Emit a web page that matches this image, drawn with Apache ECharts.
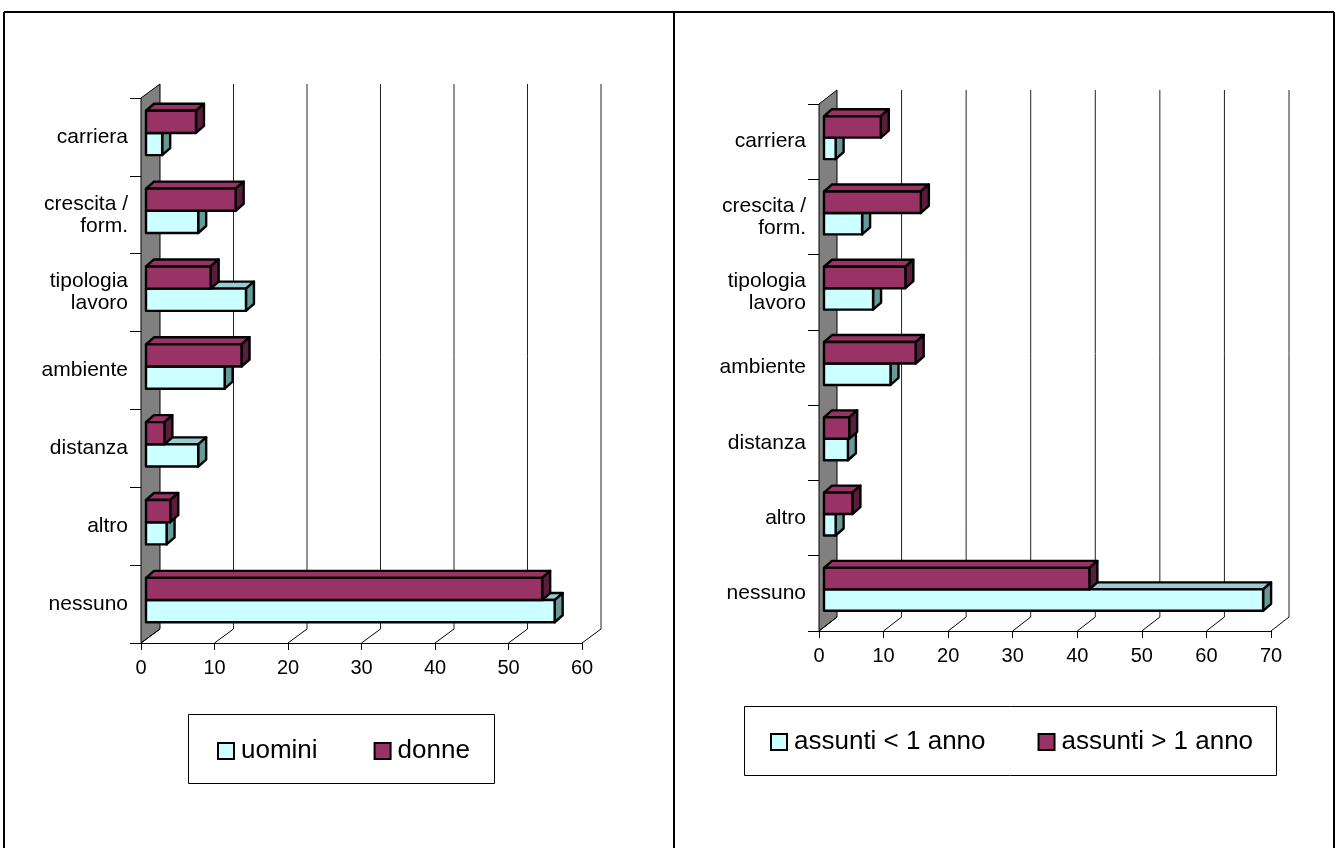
<!DOCTYPE html>
<html>
<head>
<meta charset="utf-8">
<script src="https://cdn.jsdelivr.net/npm/echarts@6/dist/echarts.min.js"></script>
<style>
html,body{margin:0;padding:0;background:#fff;}
#c{width:1338px;height:848px;}
</style>
</head>
<body>
<div id="c"></div>
<script>
// ---- data ----
const categories = ['carriera', 'crescita /\nform.', 'tipologia\nlavoro', 'ambiente', 'distanza', 'altro', 'nessuno'];
const uomini = [2.2, 7.1, 13.6, 10.7, 7.1, 2.8, 55.6];
const donne = [6.8, 12.2, 8.8, 13.0, 2.5, 3.3, 53.9];
const assuntiMeno = [1.8, 5.9, 7.6, 10.3, 3.7, 1.8, 68.0];
const assuntiPiu = [8.8, 15.0, 12.6, 14.2, 3.9, 4.4, 41.1];
const ticksLeft = [0, 10, 20, 30, 40, 50, 60];
const ticksRight = [0, 10, 20, 30, 40, 50, 60, 70];
const seriesNamesLeft = ['uomini', 'donne'];
const seriesNamesRight = ['assunti < 1 anno', 'assunti > 1 anno'];

const FONT = '"Liberation Sans", Arial, sans-serif';
const LIGHT = {front: '#CCFFFF', top: '#99CCCC', side: '#669999'};
const DARK = {front: '#993366', top: '#993366', side: '#5A1D3B'};

function decorRenderer(DX, DY) {
  return function (params, api) {
    const cs = params.coordSys;
    const top = cs.y, bottom = cs.y + cs.height;
    const v = api.value(0);
    const x = api.coord([v, 0])[0];
    const children = [];
    if (v === 0) {
      children.push({
        type: 'polygon',
        shape: {points: [[x, bottom], [x + DX, bottom + DY], [x + DX, top + DY], [x, top]]},
        style: {fill: '#808080', stroke: '#000', lineWidth: 1}
      });
    } else {
      children.push({
        type: 'line',
        shape: {x1: x + DX, y1: top + DY, x2: x + DX, y2: bottom + DY},
        style: {stroke: '#222', lineWidth: 1}
      });
    }
    children.push({
      type: 'line',
      shape: {x1: x, y1: bottom, x2: x + DX, y2: bottom + DY},
      style: {stroke: '#000', lineWidth: 1}
    });
    return {type: 'group', children: children};
  };
}

function barRenderer(upper, col) {
  return function (params, api) {
    const v = api.value(0), c = api.value(1);
    const p = api.coord([v, c]);
    const p0 = api.coord([0, c]);
    const band = api.size([0, 1])[1];
    const h = band * 0.285;
    const yc = p[1] - 4;
    const top = upper ? yc - h : yc;
    const bot = top + h;
    const x0 = p0[0] + 5, x1 = p[0] + 5;
    const bdx = 8, bdy = -7;
    const st = {stroke: '#000', lineWidth: 2.4, lineJoin: 'round'};
    return {
      type: 'group',
      children: [
        {type: 'polygon', shape: {points: [[x0, top], [x0 + bdx, top + bdy], [x1 + bdx, top + bdy], [x1, top]]},
          style: Object.assign({fill: col.top}, st)},
        {type: 'polygon', shape: {points: [[x1, top], [x1 + bdx, top + bdy], [x1 + bdx, bot + bdy], [x1, bot]]},
          style: Object.assign({fill: col.side}, st)},
        {type: 'rect', shape: {x: x0, y: top, width: x1 - x0, height: h},
          style: Object.assign({fill: col.front}, st)}
      ]
    };
  };
}

function xAxisCfg(gi, max) {
  return {
    gridIndex: gi, type: 'value', min: 0, max: max, interval: 10,
    axisLine: {show: true, lineStyle: {color: '#000', width: 1}},
    axisTick: {show: true, length: 7, lineStyle: {color: '#000'}},
    axisLabel: {color: '#000', fontSize: 20, fontFamily: FONT, margin: 15},
    splitLine: {show: false}
  };
}
function yAxisCfg(gi) {
  return {
    gridIndex: gi, type: 'category', data: categories, inverse: true,
    axisLine: {show: true, lineStyle: {color: '#000', width: 1}},
    axisTick: {show: true, length: 11, lineStyle: {color: '#000'}},
    axisLabel: {color: '#000', fontSize: 21, fontFamily: FONT, margin: 13, lineHeight: 22, align: 'right'},
    splitLine: {show: false}
  };
}

const toPairs = arr => arr.map((v, i) => [v, i]);

const chart = echarts.init(document.getElementById('c'), null, {renderer: 'canvas'});
chart.setOption({
  backgroundColor: '#fff',
  animation: false,
  grid: [
    {left: 141, top: 98, width: 441, height: 545},
    {left: 819, top: 104, width: 452, height: 527}
  ],
  xAxis: [xAxisCfg(0, 60), xAxisCfg(1, 70)],
  yAxis: [yAxisCfg(0), yAxisCfg(1)],
  legend: [
    {
      data: seriesNamesLeft.map(n => ({name: n, icon: 'rect'})),
      left: 217, top: 736, padding: 0, itemWidth: 16, itemHeight: 16, itemGap: 56,
      itemStyle: {borderColor: '#000', borderWidth: 2},
      textStyle: {fontSize: 26, fontFamily: FONT, color: '#000', lineHeight: 30, padding: [0, 0, 0, 2]},
      selectedMode: false
    },
    {
      data: seriesNamesRight.map(n => ({name: n, icon: 'rect'})),
      left: 770, top: 727, padding: 0, itemWidth: 16, itemHeight: 16, itemGap: 52,
      itemStyle: {borderColor: '#000', borderWidth: 2},
      textStyle: {fontSize: 26, fontFamily: FONT, color: '#000', lineHeight: 30, padding: [0, 0, 0, 2]},
      selectedMode: false
    }
  ],
  graphic: [
    {type: 'line', shape: {x1: 4, y1: 12, x2: 1334, y2: 12}, style: {stroke: '#000', lineWidth: 2}},
    {type: 'line', shape: {x1: 4, y1: 12, x2: 4, y2: 848}, style: {stroke: '#000', lineWidth: 2}},
    {type: 'line', shape: {x1: 674, y1: 12, x2: 674, y2: 848}, style: {stroke: '#000', lineWidth: 2}},
    {type: 'line', shape: {x1: 1334, y1: 12, x2: 1334, y2: 848}, style: {stroke: '#000', lineWidth: 2}},
    {type: 'rect', shape: {x: 188.5, y: 714.5, width: 306, height: 69}, style: {fill: 'none', stroke: '#000', lineWidth: 1}, z: -1},
    {type: 'rect', shape: {x: 744.5, y: 706.5, width: 532, height: 69}, style: {fill: 'none', stroke: '#000', lineWidth: 1}, z: -1}
  ],
  series: [
    {type: 'custom', name: 'decorL', xAxisIndex: 0, yAxisIndex: 0, z: 1, silent: true,
      renderItem: decorRenderer(19, -14), data: ticksLeft.map(v => [v, 0]), encode: {x: 0, y: 1}},
    {type: 'custom', name: 'decorR', xAxisIndex: 1, yAxisIndex: 1, z: 1, silent: true,
      renderItem: decorRenderer(18, -14), data: ticksRight.map(v => [v, 0]), encode: {x: 0, y: 1}},
    {type: 'custom', name: seriesNamesLeft[0], xAxisIndex: 0, yAxisIndex: 0, z: 3,
      itemStyle: {color: LIGHT.front}, renderItem: barRenderer(false, LIGHT), data: toPairs(uomini), encode: {x: 0, y: 1}},
    {type: 'custom', name: seriesNamesLeft[1], xAxisIndex: 0, yAxisIndex: 0, z: 4,
      itemStyle: {color: DARK.front}, renderItem: barRenderer(true, DARK), data: toPairs(donne), encode: {x: 0, y: 1}},
    {type: 'custom', name: seriesNamesRight[0], xAxisIndex: 1, yAxisIndex: 1, z: 3,
      itemStyle: {color: LIGHT.front}, renderItem: barRenderer(false, LIGHT), data: toPairs(assuntiMeno), encode: {x: 0, y: 1}},
    {type: 'custom', name: seriesNamesRight[1], xAxisIndex: 1, yAxisIndex: 1, z: 4,
      itemStyle: {color: DARK.front}, renderItem: barRenderer(true, DARK), data: toPairs(assuntiPiu), encode: {x: 0, y: 1}}
  ]
});
</script>
</body>
</html>
